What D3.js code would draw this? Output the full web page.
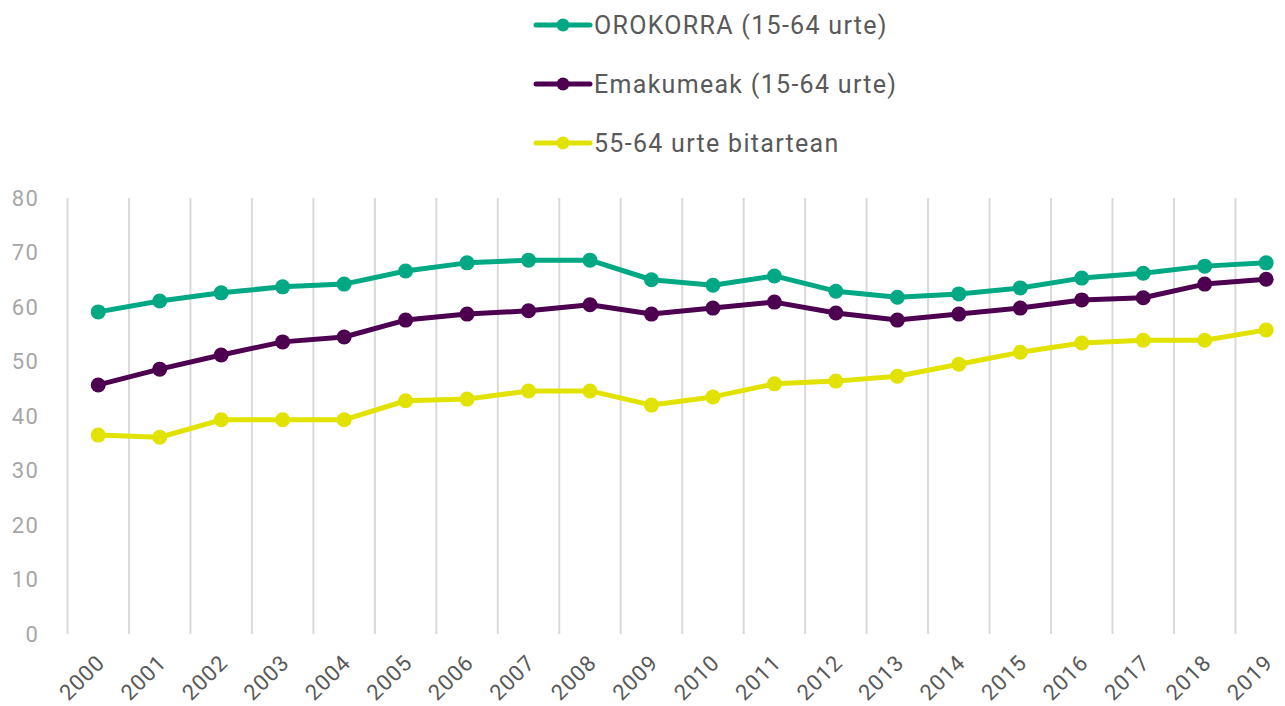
<!DOCTYPE html>
<html>
<head>
<meta charset="utf-8">
<script src="https://cdn.jsdelivr.net/npm/d3@7"></script>
<style>
  html, body { margin: 0; padding: 0; background: #fff; }
  svg { display: block; font-family: Roboto, "Noto Sans", sans-serif; }
</style>
</head>
<body>
<svg id="chart" width="1285" height="706"></svg>
<script>
// Employment rates, 2000–2019
const years = ["2000","2001","2002","2003","2004","2005","2006","2007","2008","2009",
               "2010","2011","2012","2013","2014","2015","2016","2017","2018","2019"];
const orokorra = [59.1,61.1,62.6,63.7,64.2,66.6,68.1,68.6,68.6,65.0,64.0,65.7,62.9,61.8,62.4,63.5,65.3,66.2,67.5,68.1];
const emakumeak = [45.7,48.6,51.2,53.6,54.5,57.6,58.7,59.3,60.4,58.7,59.8,60.9,58.9,57.6,58.7,59.8,61.3,61.7,64.2,65.1];
const adinNagusiak = [36.5,36.1,39.3,39.3,39.3,42.8,43.1,44.6,44.6,42.0,43.5,45.9,46.4,47.3,49.5,51.7,53.4,53.9,53.9,55.8];
const yTicks = [0,10,20,30,40,50,60,70,80];

const seriesNames = ["OROKORRA (15-64 urte)", "Emakumeak (15-64 urte)", "55-64 urte bitartean"];
const seriesColors = ["#00a884", "#4d0050", "#e2e200"];
const seriesValues = [orokorra, emakumeak, adinNagusiak];

const svg = d3.select("#chart");

const x = d3.scaleBand().domain(years).range([67.5, 67.5 + 20 * 61.47]).paddingInner(0).paddingOuter(0);
const y = d3.scaleLinear().domain([0, 80]).range([634, 198]);

// vertical gridlines at band boundaries
svg.append("g").selectAll("line")
  .data(years)
  .join("line")
  .attr("x1", d => x(d)).attr("x2", d => x(d))
  .attr("y1", y(80)).attr("y2", y(0))
  .attr("stroke", "#d9d9d9").attr("stroke-width", 2);

// y axis labels
const yAxis = d3.axisLeft(y).tickValues(yTicks).tickSize(0).tickPadding(0);
svg.append("g")
  .attr("transform", "translate(39,0)")
  .call(yAxis)
  .call(g => g.select(".domain").remove())
  .call(g => g.selectAll("text")
    .attr("fill", "#a6a6a6")
    .attr("font-size", 22)
    .attr("letter-spacing", 1.2)
    .attr("font-family", "Roboto, sans-serif"));

// x axis labels, rotated
const xAxis = d3.axisBottom(x).tickSize(0).tickPadding(0);
svg.append("g")
  .call(xAxis)
  .call(g => g.select(".domain").remove())
  .call(g => g.selectAll(".tick").attr("transform", d => `translate(${x(d) + x.bandwidth() / 2},0)`))
  .call(g => g.selectAll("text")
    .attr("fill", "#595959")
    .attr("font-size", 22)
    .attr("letter-spacing", 1)
    .attr("font-family", "Roboto, sans-serif")
    .attr("text-anchor", "end")
    .attr("dy", null)
    .attr("y", 0)
    .attr("transform", "translate(8,664) rotate(-45)"));

// lines and markers
const line = d3.line()
  .x((d, i) => x(years[i]) + x.bandwidth() / 2)
  .y(d => y(d));

seriesValues.forEach((vals, s) => {
  const g = svg.append("g");
  g.append("path")
    .datum(vals)
    .attr("d", line)
    .attr("fill", "none")
    .attr("stroke", seriesColors[s])
    .attr("stroke-width", 5)
    .attr("stroke-linejoin", "round")
    .attr("stroke-linecap", "round");
  g.selectAll("circle")
    .data(vals)
    .join("circle")
    .attr("cx", (d, i) => x(years[i]) + x.bandwidth() / 2)
    .attr("cy", d => y(d))
    .attr("r", 7.5)
    .attr("fill", seriesColors[s]);
});

// legend
const legend = svg.append("g").attr("transform", "translate(536,25)");
seriesNames.forEach((name, i) => {
  const row = legend.append("g").attr("transform", `translate(0,${i * 59})`);
  row.append("line")
    .attr("x1", 0).attr("x2", 54).attr("y1", 0).attr("y2", 0)
    .attr("stroke", seriesColors[i]).attr("stroke-width", 5)
    .attr("stroke-linecap", "round");
  row.append("circle").attr("cx", 27).attr("cy", 0).attr("r", 6.5).attr("fill", seriesColors[i]);
  row.append("text")
    .attr("x", 58).attr("y", 0).attr("dy", "0.36em")
    .attr("font-size", 25)
    .attr("letter-spacing", 1.3)
    .attr("fill", "#595959")
    .text(name);
});
</script>
</body>
</html>
